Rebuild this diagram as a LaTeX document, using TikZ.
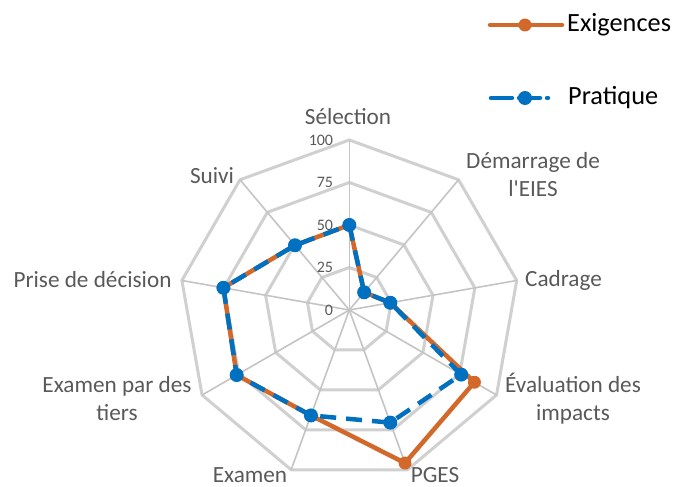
\documentclass[tikz,border=0pt]{standalone}
\usepackage{fontspec}
\setmainfont{Carlito}
\newfontfamily\rawfont[Ligatures=TeXOff]{Carlito}
\definecolor{orng}{HTML}{D2692B}
\definecolor{blu}{HTML}{0070C0}
\definecolor{gridc}{HTML}{D0D0D0}
\definecolor{spokec}{HTML}{C4C4C4}
\definecolor{txt}{HTML}{595959}
\begin{document}
\begin{tikzpicture}[x=1pt,y=-1pt,
 lbl/.style={text=txt,font=\fontsize{23.2}{28}\selectfont,align=center,inner sep=0pt},
 ticklbl/.style={text=txt,font=\fontsize{16}{18}\selectfont,anchor=east,inner sep=0pt},
 ring/.style={draw=gridc,line width=3pt,line join=miter},
 spk/.style={draw=spokec,line width=1.6pt},
 exi/.style={draw=orng,line width=4.5pt,line join=round},
 pra/.style={draw=blu,line width=4.5pt,dash pattern=on 16pt off 10pt,line join=round},
 emark/.style={circle,fill=orng,inner sep=0pt,minimum size=13pt},
 pmark/.style={circle,fill=blu,inner sep=0pt,minimum size=14pt},
 leg/.style={text=black,font=\fontsize{26.3}{30}\selectfont,anchor=west,inner sep=0pt}]
\useasboundingbox (0,0) rectangle (675,487);
\begin{scope}[shift={(349.3,310)},yscale=-1]
 \coordinate (O) at (0,0);
 \foreach \r in {42.5,85,127.5,170}
   \draw[ring] (90:\r) -- (50:\r) -- (10:\r) -- (-30:\r) -- (-70:\r) -- (-110:\r) -- (-150:\r) -- (-190:\r) -- (-230:\r) -- cycle;
 \foreach \k in {0,...,8} {
   \coordinate (ax\k) at ({90-40*\k}:170);
   \draw[spk] (O) -- (ax\k);
 }
 \foreach \v/\t [count=\i from 0] in {0/0,42.5/25,85/50,127.5/75,170/100}
   \node[ticklbl] (tk\i) at (-16,\v) {\t};
 \foreach \v [count=\i from 0] in {50,13.6,24.5,85,95.8,66,76.5,75.2,49.7}
   \coordinate (e\i) at ({90-40*\i}:{1.7*\v});
 \foreach \v [count=\i from 0] in {50,13.6,24.5,76,70.5,66,76.5,75.2,49.7}
   \coordinate (p\i) at ({90-40*\i}:{1.7*\v});
 \draw[exi] (e0) -- (e1) -- (e2) -- (e3) -- (e4) -- (e5) -- (e6) -- (e7) -- (e8) -- cycle;
 \foreach \i in {0,...,8} \node[emark] (em\i) at (e\i) {};
 \draw[pra] (p0) -- (p1) -- (p2) -- (p3) -- (p4) -- (p5) -- (p6) -- (p7) -- (p8) -- cycle;
 \foreach \i in {0,...,8} \node[pmark] (pm\i) at (p\i) {};
\end{scope}
% axis labels
\node[lbl] (l0) at (348,117) {Sélection};
\node[lbl] (l1) at (533,175) {Démarrage de\\{\rawfont l'EIES}};
\node[lbl] (l2) at (563.5,280) {Cadrage};
\node[lbl] (l3) at (573,399) {Évaluation des\\impacts};
\node[lbl] (l4) at (435,475) {PGES};
\node[lbl] (l5) at (250,475) {Examen};
\node[lbl] (l6) at (117,398.5) {Examen par des\\tiers};
\node[lbl] (l7) at (92.5,280) {Prise de décision};
\node[lbl] (l8) at (212,176) {Suivi};
% legend
\coordinate (la1) at (490,25);
\coordinate (la2) at (562,25);
\draw[exi,line cap=round] (la1) -- (la2);
\node[emark] (lam) at (525,25) {};
\node[leg] (lat) at (567,25) {Exigences};
\coordinate (lb1) at (491,98);
\coordinate (lb2) at (548,98);
\draw[draw=blu,line width=4.5pt,dash pattern=on 21pt off 7pt,line cap=round] (lb1) -- (lb2);
\node[pmark] (lbm) at (525,98) {};
\node[leg] (lbt) at (568,98) {Pratique};
\end{tikzpicture}
\end{document}
